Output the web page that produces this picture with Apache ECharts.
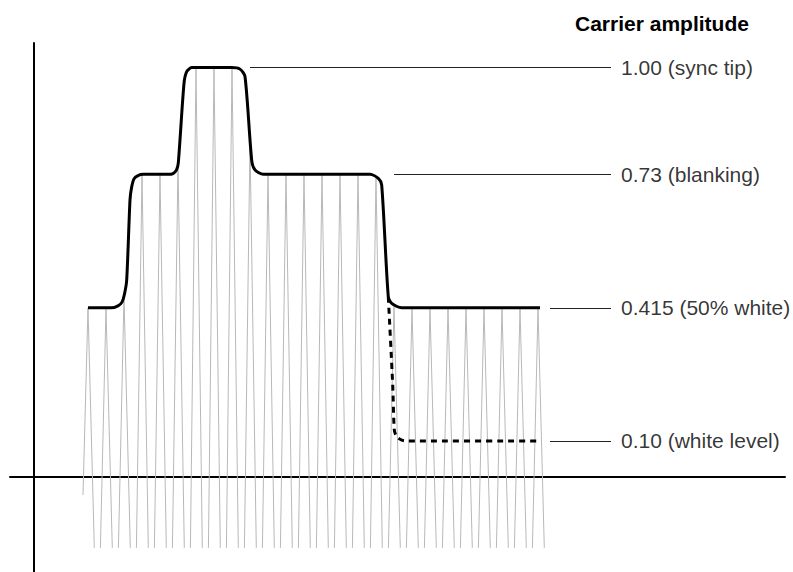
<!DOCTYPE html>
<html>
<head>
<meta charset="utf-8">
<script src="https://cdn.jsdelivr.net/npm/echarts@6/dist/echarts.min.js"></script>
<style>
  html, body { margin: 0; padding: 0; background: #fff; }
  #chart { width: 793px; height: 572px; }
</style>
</head>
<body>
<div id="chart"></div>
<script>
// ---- data (time in carrier periods, amplitude relative to sync tip) ----
const envelope = [
  [3.000, 0.413], [4.278, 0.413], [4.667, 0.418], [4.889, 0.427], [5.028, 0.447],
  [5.150, 0.481], [5.333, 0.676], [5.417, 0.706], [5.556, 0.728], [5.778, 0.736],
  [6.056, 0.739], [7.444, 0.739], [7.722, 0.741], [7.917, 0.750], [8.017, 0.767],
  [8.333, 0.961], [8.483, 0.990], [8.761, 1.000], [9.039, 1.000], [10.983, 1.000],
  [11.444, 0.996], [11.722, 0.978], [12.094, 0.774], [12.278, 0.750], [12.739, 0.739],
  [18.667, 0.739], [19.128, 0.729], [19.317, 0.713], [19.683, 0.440], [19.872, 0.424],
  [20.428, 0.413], [28.111, 0.413]
];
const whiteEnvelope = [
  [19.683, 0.440], [19.928, 0.225], [20.017, 0.115], [20.150, 0.098], [20.428, 0.090],
  [20.706, 0.088], [28.017, 0.088]
];
const carrierPeakTimes = [3,4,5,6,7,8,9,10,11,12,13,14,15,16,17,18,19,20,21,22,23,24,25,26,27,28];
const carrierPeakValues = [0.413,0.413,0.44,0.739,0.739,0.767,1.00,1.00,1.00,0.82,
  0.739,0.739,0.739,0.739,0.739,0.739,0.733,0.416,0.413,0.413,0.413,0.413,0.413,0.413,0.413,0.413];
const carrierTrough = -0.173;
const firstTroughValue = -0.044;
const levelValues = [1.00, 0.739, 0.413, 0.088];
const levelNames = ['1.00 (sync tip)', '0.73 (blanking)', '0.415 (50% white)', '0.10 (white level)'];
const leaderStart = [12.0, 20.0, 28.667, 28.667];
const leaderEnd = 32.056;
const titleText = 'Carrier amplitude';

// ---- build series ----
const dLeft = 0.31, dRight = 0.35;
const carrierLines = [];
carrierPeakTimes.forEach((t, i) => {
  const v = carrierPeakValues[i];
  if (i === 0) {
    carrierLines.push({ coords: [[t, v], [t - 0.278, firstTroughValue]] });
  } else {
    carrierLines.push({ coords: [[t, v], [t - dLeft, carrierTrough]] });
  }
  carrierLines.push({ coords: [[t, v], [t + dRight, carrierTrough]] });
});
const leaderLines = levelValues.map((v, i) => ({ coords: [[leaderStart[i], v], [leaderEnd, v]] }));
const labelPoints = levelValues.map((v, i) => ({ value: [leaderEnd, v], name: levelNames[i] }));

const FONT = '"Liberation Sans", Arial, Helvetica, sans-serif';
const chart = echarts.init(document.getElementById('chart'), null, { renderer: 'svg' });
chart.setOption({
  animation: false,
  backgroundColor: '#fff',
  title: {
    text: titleText,
    left: 570, top: 8,
    textStyle: { fontFamily: FONT, fontSize: 21, fontWeight: 'bold', color: '#000' }
  },
  grid: { left: 10, right: 8, top: 43, bottom: 0, containLabel: false },
  xAxis: {
    type: 'value', min: -1.3333, max: 41.7222,
    axisLine: { show: true, onZero: true, lineStyle: { color: '#000', width: 2 } },
    axisTick: { show: false }, axisLabel: { show: false }, splitLine: { show: false }
  },
  yAxis: {
    type: 'value', min: -0.232, max: 1.0598,
    axisLine: { show: true, onZero: true, lineStyle: { color: '#000', width: 2 } },
    axisTick: { show: false }, axisLabel: { show: false }, splitLine: { show: false }
  },
  series: [
    {
      type: 'lines', coordinateSystem: 'cartesian2d', silent: true,
      lineStyle: { color: '#b8b8b8', width: 1, opacity: 1 },
      data: carrierLines, z: 1
    },
    {
      type: 'line', data: envelope, smooth: 0.25, symbol: 'none', silent: true,
      lineStyle: { color: '#000', width: 3 }, z: 3
    },
    {
      type: 'line', data: whiteEnvelope, smooth: 0.25, symbol: 'none', silent: true,
      lineStyle: { color: '#000', width: 3, type: [6, 5] }, z: 3
    },
    {
      type: 'lines', coordinateSystem: 'cartesian2d', silent: true,
      lineStyle: { color: '#222', width: 1, opacity: 1 },
      data: leaderLines, z: 2
    },
    {
      type: 'scatter', data: labelPoints, symbolSize: 0, silent: true,
      label: {
        show: true, position: 'right', distance: 10,
        formatter: p => p.name,
        fontFamily: FONT, fontSize: 21, color: '#000'
      }
    }
  ]
});
</script>
</body>
</html>
